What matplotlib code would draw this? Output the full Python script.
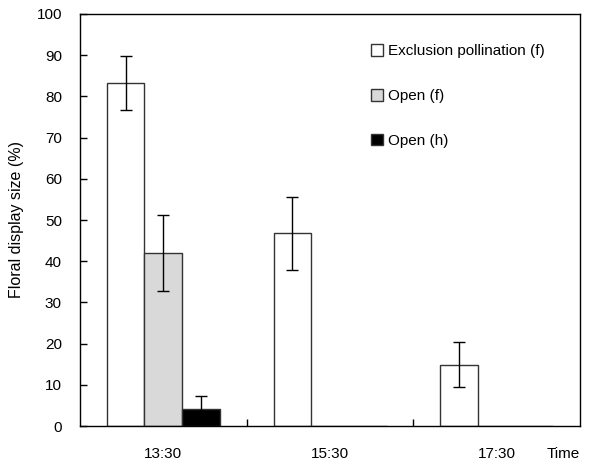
import matplotlib
matplotlib.use("Agg")
import matplotlib.pyplot as plt
import numpy as np

plt.rcParams["font.family"] = ["Liberation Sans", "DejaVu Sans"]

times = ["13:30", "15:30", "17:30"]
series = ["Exclusion pollination (f)", "Open (f)", "Open (h)"]
excl_vals = [83.3, 46.8, 14.9]
excl_err = [6.5, 8.9, 5.4]
open_f_vals = [42.0, 0.0, 0.0]
open_f_err = [9.2, 0.0, 0.0]
open_h_vals = [4.1, 0.0, 0.0]
open_h_err = [3.3, 0.0, 0.0]

fig = plt.figure(figsize=(6.1, 4.65), dpi=100)
ax = fig.add_axes([80 / 610, 1 - 426 / 465, 500 / 610, 412 / 465])

x = np.arange(len(times))
w = 0.226
colors = ["white", "#d9d9d9", "black"]
vals = [excl_vals, open_f_vals, open_h_vals]
errs = [excl_err, open_f_err, open_h_err]
for i, (v, e, c, lab) in enumerate(zip(vals, errs, colors, series)):
    xe = x + (i - 1) * w
    ax.bar(xe, v, w, color=c, edgecolor="#333333", linewidth=1.0, label=lab, zorder=2)
    mask = np.array(e) > 0
    ax.errorbar(xe[mask], np.array(v)[mask], yerr=np.array(e)[mask], fmt="none",
                ecolor="black", elinewidth=1.0, capsize=4, capthick=1.0, zorder=3)

ax.set_xlim(-0.5, 2.5)
ax.set_ylim(0, 100)
ax.set_yticks(range(0, 101, 10))
ax.tick_params(axis="y", direction="in", length=5, width=1, labelsize=11, pad=13)
ax.set_xticks([0.5, 1.5])
ax.set_xticklabels([])
ax.tick_params(axis="x", direction="in", length=5, width=1)
for xi, t in zip(x, times):
    ax.text(xi, -6.8, t, ha="center", va="center", fontsize=11)
ax.text(1.0, -6.8, "Time", ha="right", va="center", fontsize=11,
        transform=ax.get_yaxis_transform())
for s in ax.spines.values():
    s.set_linewidth(1.0)

ax.set_ylabel("Floral display size (%)", fontsize=11.5, labelpad=9)

leg = ax.legend(loc="upper left", bbox_to_anchor=(0.554, 0.96), frameon=False,
                handlelength=0.8, handleheight=0.8, handletextpad=0.3,
                labelspacing=2.0, fontsize=11)

fig.savefig("out.png", dpi=100)
